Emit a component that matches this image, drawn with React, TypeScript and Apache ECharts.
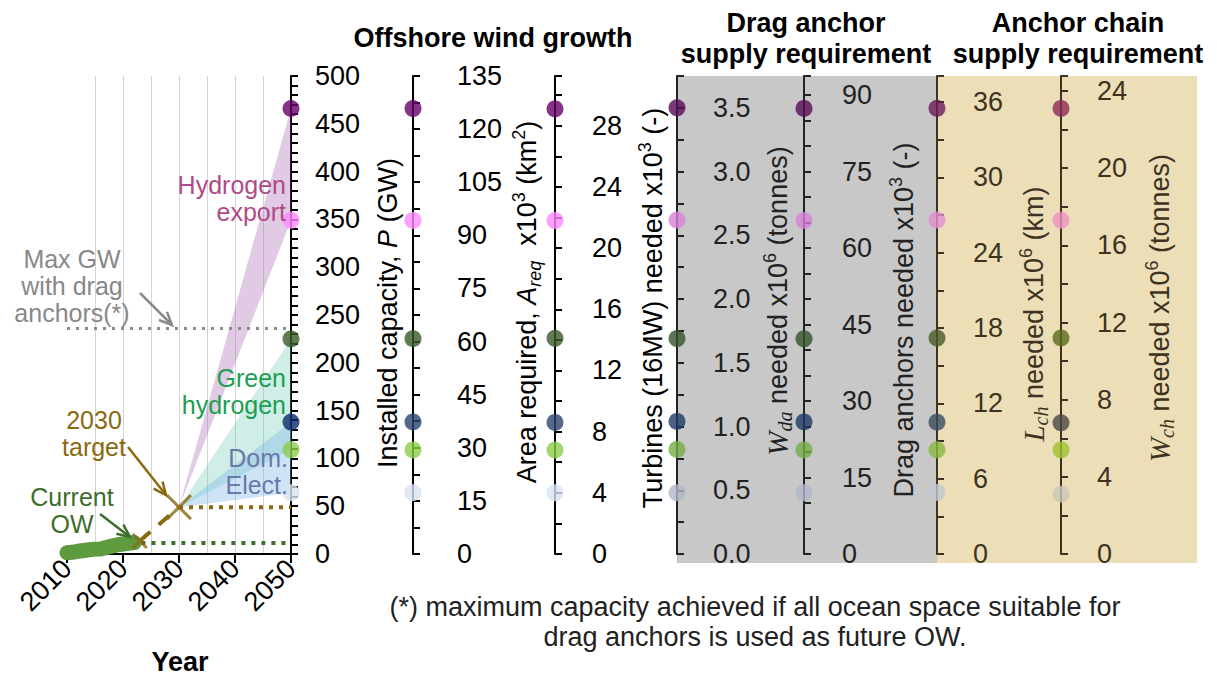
import React, { useEffect, useRef } from "react";
import * as echarts from "echarts";

const FONT = "'Liberation Sans', Arial, Helvetica, sans-serif";
const SERIF = "'Liberation Serif', 'Times New Roman', serif";

// ---------------- data ----------------
const owYears = [2010, 2011, 2012, 2013, 2014, 2015, 2016, 2017, 2018, 2019, 2020, 2021, 2022];
const owCapacityGW = [1.3, 1.8, 2.9, 3.7, 4.5, 5.1, 5.3, 6.8, 8.2, 9.7, 10.4, 11.3, 12.0];
const currentLevelLine = [[2021.5, 11.5], [2050, 11.5]];
const currentMarker = [2023, 13.6];
const target2030 = [2030, 49];
const targetLevelLine = [[2030, 49], [2050, 49]];
const maxDragLine = [[2010, 236], [2050, 236]];
const scenarioYear = 2050;
// 2050 scenario end points (GW): H2 export high, H2 export low, green H2 high, dom. elect. high, green H2 low, dom. elect. low
const capacityGW = [466, 349, 225, 138, 109, 64];
const hydrogenExportBand = [349, 466];
const greenHydrogenBand = [109, 225];
const domElectBand = [64, 138];
const areaReq = [125.8, 94.2, 60.8, 37.3, 29.4, 17.3];
const turbines = [29.1, 21.8, 14.1, 8.6, 6.8, 4.0];
const dragAnchorMass = [3.5, 2.62, 1.69, 1.04, 0.82, 0.48];
const dragAnchors = [87.4, 65.4, 42.2, 25.9, 20.4, 12.0];
const chainLength = [35.5, 26.6, 17.2, 10.5, 8.3, 4.9];
const chainMass = [23.1, 17.3, 11.2, 6.8, 5.4, 3.1];

// ---------------- styles ----------------
const dotWhite1 = ["#660066", "#ff88ff", "#3a5a28", "#0a2a6a", "#8acd48", "#d8e2f2"];
const dotWhite2 = ["#660066", "#ff88ff", "#3a5a28", "#2a4470", "#8acd48", "#d8e2f2"];
const dotGrey = ["#560a56", "#d882d8", "#34522a", "#1e3a64", "#74ac44", "#b0b8c8"];
const dotBeige1 = ["#6a1a5a", "#e48ed2", "#4a5a28", "#384a60", "#88b840", "#c0c8d0"];
const dotBeige2 = ["#8a2a55", "#ee90c0", "#5a6a1a", "#4a4a42", "#a0c030", "#c8c8b8"];

const TOP = 76;
const HEIGHT = 478;

const axesCfg = [
  { x: 291, max: 500, step: 10, labelStep: 50, dec: 0, margin: 24, values: capacityGW, colors: dotWhite1, ink: "#000" },
  { x: 413, max: 135, step: 7.5, labelStep: 15, dec: 0, margin: 44, values: areaReq, colors: dotWhite2, ink: "#000" },
  { x: 555, max: 31.25, step: 2, labelStep: 4, dec: 0, margin: 37, values: turbines, colors: dotWhite2, ink: "#000" },
  { x: 677, max: 3.75, step: 0.25, labelStep: 0.5, dec: 1, margin: 36, values: dragAnchorMass, colors: dotGrey, ink: "#222" },
  { x: 804, max: 93.75, step: 5, labelStep: 15, dec: 0, margin: 38, values: dragAnchors, colors: dotGrey, ink: "#222" },
  { x: 937, max: 38.07, step: 3, labelStep: 6, dec: 0, margin: 36, values: chainLength, colors: dotBeige1, ink: "#3d3320" },
  { x: 1061, max: 24.78, step: 2, labelStep: 4, dec: 0, margin: 36, values: chainMass, colors: dotBeige2, ink: "#3d3320" },
];

const isMult = (v: number, s: number) => Math.abs(v / s - Math.round(v / s)) < 1e-6;

function arrow(x1: number, y1: number, x2: number, y2: number, color: string) {
  const ang = Math.atan2(y2 - y1, x2 - x1);
  const L = 14;
  const a = 0.42;
  const p1 = [x2 - L * Math.cos(ang - a), y2 - L * Math.sin(ang - a)];
  const p2 = [x2 - L * Math.cos(ang + a), y2 - L * Math.sin(ang + a)];
  return [
    { type: "line", z: 30, shape: { x1, y1, x2, y2 }, style: { stroke: color, lineWidth: 2.5 } },
    { type: "polyline", z: 30, shape: { points: [p1, [x2, y2], p2] }, style: { stroke: color, lineWidth: 2.5, fill: null } },
  ];
}

function label(x: number, y: number, text: string, fill: string, opts: any = {}) {
  const align = opts.align || "center";
  return {
    type: "text",
    x,
    y,
    z: 40,
    rotation: opts.rotation || 0,
    style: {
      text,
      fill,
      fontSize: opts.fontSize || 27,
      fontWeight: opts.bold ? "bold" : "normal",
      fontFamily: FONT,
      align,
      textAlign: align,
      verticalAlign: "middle",
      textVerticalAlign: "middle",
      lineHeight: opts.lineHeight || 30,
      rich: opts.rich,
    },
  };
}

function richFor(color: string) {
  return {
    n: { fontSize: 27, fontFamily: FONT, lineHeight: 34, fill: color },
    i: { fontSize: 27, fontFamily: FONT, fontStyle: "italic", lineHeight: 34, fill: color },
    iw: { fontSize: 29, fontFamily: SERIF, fontStyle: "italic", lineHeight: 34, fill: color },
    sub: { fontSize: 18, fontFamily: FONT, fontStyle: "italic", lineHeight: 16, verticalAlign: "bottom", fill: color },
    subs: { fontSize: 20, fontFamily: SERIF, fontStyle: "italic", lineHeight: 16, verticalAlign: "bottom", fill: color },
    sup: { fontSize: 18, fontFamily: FONT, lineHeight: 17, verticalAlign: "top", fill: color },
  };
}

const ANN = { fontSize: 25, lineHeight: 27 };

export default function App() {
  const ref = useRef<HTMLDivElement>(null);

  useEffect(() => {
    document.body.style.margin = "0";
    if (!ref.current) return;
    const chart = echarts.init(ref.current, undefined, { renderer: "svg" });

    const grids: any[] = [{ left: 67, top: TOP, width: 224, height: HEIGHT }];
    const xAxes: any[] = [
      {
        gridIndex: 0,
        type: "value",
        min: 2010,
        max: 2050,
        interval: 10,
        axisLine: { show: true, onZero: false, lineStyle: { color: "#000", width: 2 } },
        axisTick: { show: true, length: 9, lineStyle: { color: "#000", width: 2 } },
        axisLabel: { rotate: 45, fontSize: 27, color: "#000", margin: 10, fontFamily: FONT, formatter: (v: number) => String(v) },
        splitLine: { show: true, showMinLine: false, showMaxLine: false, lineStyle: { color: "#d4d4d4", width: 1 } },
        minorTick: { show: false, splitNumber: 2 },
        minorSplitLine: { show: true, lineStyle: { color: "#d4d4d4", width: 1 } },
      },
    ];
    const yAxes: any[] = [];
    const series: any[] = [];

    axesCfg.forEach((a, i) => {
      if (i > 0) {
        grids.push({ left: a.x - 10, top: TOP, width: 10, height: HEIGHT });
        xAxes.push({ gridIndex: i, type: "value", min: 0, max: 1, show: false });
      }
      yAxes.push({
        gridIndex: i,
        type: "value",
        position: "right",
        min: 0,
        max: a.max,
        interval: a.step,
        axisLine: { show: true, onZero: false, lineStyle: { color: a.ink, width: 2 } },
        axisTick: { show: true, length: 7, lineStyle: { color: a.ink, width: 2 } },
        axisLabel: {
          show: true,
          margin: a.margin,
          fontSize: 27,
          fontFamily: FONT,
          color: a.ink,
          showMaxLabel: true,
          formatter: (v: number) => (isMult(v, a.labelStep) ? v.toFixed(a.dec) : ""),
        },
        splitLine: { show: false },
      });
      series.push({
        type: "scatter",
        xAxisIndex: i,
        yAxisIndex: i,
        symbolSize: 17,
        clip: false,
        z: 10,
        data: a.values.map((v, k) => ({
          value: [i === 0 ? scenarioYear : 1, v],
          itemStyle: { color: a.colors[k] },
        })),
      });
    });

    const fanSeries = (band: number[], color: string, z: number) => ({
      type: "custom",
      xAxisIndex: 0,
      yAxisIndex: 0,
      z,
      clip: false,
      data: [[target2030[0], target2030[1], scenarioYear, band[0], band[1]]],
      encode: { x: [0, 2], y: [1, 3, 4] },
      renderItem: (params: any, api: any) => {
        const o = api.coord([api.value(0), api.value(1)]);
        const lo = api.coord([api.value(2), api.value(3)]);
        const hi = api.coord([api.value(2), api.value(4)]);
        return { type: "polygon", shape: { points: [o, hi, lo] }, style: { fill: color } };
      },
    });

    series.push(fanSeries(hydrogenExportBand, "rgba(160,90,170,0.32)", 1));
    series.push(fanSeries(greenHydrogenBand, "rgba(100,200,180,0.30)", 1));
    series.push(fanSeries(domElectBand, "rgba(120,180,230,0.36)", 1));

    const lineS = (data: number[][], color: string, width: number, type: any, z = 3) => ({
      type: "line",
      xAxisIndex: 0,
      yAxisIndex: 0,
      data,
      z,
      clip: false,
      showSymbol: false,
      symbol: "none",
      lineStyle: { color, width, type, cap: "butt" },
    });

    series.push(lineS(maxDragLine, "#8a8a8a", 3, [3, 6]));
    series.push(lineS(currentLevelLine, "#3d6e2d", 4, [4, 6]));
    series.push(lineS(targetLevelLine, "#8a6a10", 4, [4, 6]));
    series.push(lineS([currentMarker, target2030], "#8a6a10", 4, [14, 11]));
    series.push({
      type: "line",
      xAxisIndex: 0,
      yAxisIndex: 0,
      z: 4,
      clip: false,
      showSymbol: false,
      symbol: "none",
      data: owYears.map((y, k) => [y, owCapacityGW[k]]),
      lineStyle: { color: "#5e9a3e", width: 15, cap: "round", join: "round" },
    });
    series.push({
      type: "scatter",
      xAxisIndex: 0,
      yAxisIndex: 0,
      z: 6,
      clip: false,
      symbol: "path://M0,0L10,10M10,0L0,10",
      data: [
        { value: currentMarker, symbolSize: 14 },
        { value: target2030, symbolSize: 24 },
      ],
      itemStyle: { color: "none", borderColor: "#8a6a10", borderWidth: 3 },
    });

    const graphics: any[] = [
      { type: "rect", z: -10, shape: { x: 677, y: TOP, width: 260, height: 487 }, style: { fill: "#c8c8c8" } },
      { type: "rect", z: -10, shape: { x: 937, y: TOP, width: 260, height: 487 }, style: { fill: "#ecdfb8" } },
      label(493, 38, "Offshore wind growth", "#000", { bold: true }),
      label(806, 38, "Drag anchor\nsupply requirement", "#000", { bold: true, lineHeight: 31 }),
      label(1078, 38, "Anchor chain\nsupply requirement", "#000", { bold: true, lineHeight: 31 }),
      label(755, 622, "(*) maximum capacity achieved if all ocean space suitable for\ndrag anchors is used as future OW.", "#222", { lineHeight: 30 }),
      label(180, 662, "Year", "#000", { bold: true }),
      // in-plot annotations
      label(286, 198, "Hydrogen\nexport", "#b04a88", { align: "right", ...ANN }),
      label(72, 286, "Max GW\nwith drag\nanchors(*)", "#888888", ANN),
      label(286, 391, "Green\nhydrogen", "#1aa050", { align: "right", ...ANN }),
      label(94, 433, "2030\ntarget", "#8a6a10", ANN),
      label(288, 471, "Dom.\nElect.", "#6a78a8", { align: "right", ...ANN }),
      label(72, 510, "Current\nOW", "#3d6e2d", ANN),
      ...arrow(140, 293, 172, 325, "#8a8a8a"),
      ...arrow(128, 447, 166, 495, "#8a6a10"),
      ...arrow(100, 514, 130, 537, "#3d6e2d"),
      // rotated axis titles
      label(388, 313, "{n|Installed capacity, }{i|P}{n| (GW)}", "#000", { rotation: Math.PI / 2, rich: richFor("#000") }),
      label(527, 302, "{n|Area required, }{i|A}{sub|req}{n|  x10}{sup|3}{n| (km}{sup|2}{n|)}", "#000", { rotation: Math.PI / 2, rich: richFor("#000") }),
      label(653, 308, "{n|Turbines (16MW) needed x10}{sup|3}{n| (-)}", "#000", { rotation: Math.PI / 2, rich: richFor("#000") }),
      label(778, 301, "{iw|W}{subs|da}{n| needed x10}{sup|6}{n| (tonnes)}", "#222", { rotation: Math.PI / 2, rich: richFor("#222") }),
      label(904, 320, "{n|Drag anchors needed x10}{sup|3}{n| (-)}", "#222", { rotation: Math.PI / 2, rich: richFor("#222") }),
      label(1034, 314, "{iw|L}{subs|ch}{n| needed x10}{sup|6}{n| (km)}", "#3d3320", { rotation: Math.PI / 2, rich: richFor("#3d3320") }),
      label(1160, 308, "{iw|W}{subs|ch}{n| needed x10}{sup|6}{n| (tonnes)}", "#3d3320", { rotation: Math.PI / 2, rich: richFor("#3d3320") }),
    ];

    chart.setOption({
      animation: false,
      backgroundColor: "#fff",
      grid: grids,
      xAxis: xAxes,
      yAxis: yAxes,
      series,
      graphic: { elements: graphics },
    });

    return () => chart.dispose();
  }, []);

  return <div ref={ref} style={{ width: 1217, height: 677 }} />;
}
